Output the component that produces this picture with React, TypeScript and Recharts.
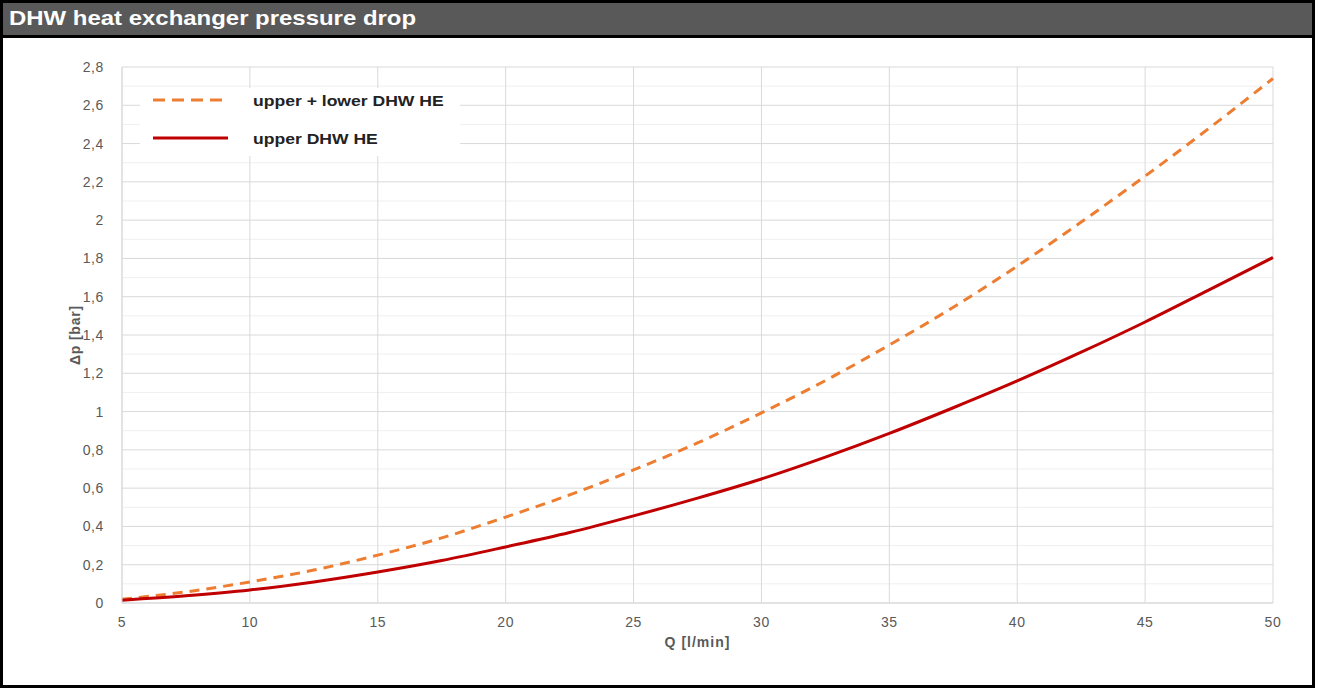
import { LineChart, Line, XAxis, YAxis, CartesianGrid } from 'recharts';

// Q [l/min]
const flow = [5, 7.5, 10, 12.5, 15, 17.5, 20, 22.5, 25, 27.5, 30, 32.5, 35, 37.5, 40, 42.5, 45, 47.5, 50];
// pressure drop [bar], upper DHW HE only
const upperHE = [0.015, 0.038, 0.068, 0.11, 0.162, 0.222, 0.293, 0.368, 0.455, 0.548, 0.648, 0.762, 0.886, 1.02, 1.16, 1.31, 1.468, 1.636, 1.805];
// pressure drop [bar], upper + lower DHW HE
const bothHE = [0.02, 0.058, 0.11, 0.172, 0.25, 0.34, 0.449, 0.565, 0.695, 0.836, 0.993, 1.162, 1.348, 1.545, 1.76, 1.99, 2.23, 2.48, 2.74];

const xTicks = [5, 10, 15, 20, 25, 30, 35, 40, 45, 50];
const yTicks = [0, 0.2, 0.4, 0.6, 0.8, 1, 1.2, 1.4, 1.6, 1.8, 2, 2.2, 2.4, 2.6, 2.8];
const yMinor = [0.1, 0.3, 0.5, 0.7, 0.9, 1.1, 1.3, 1.5, 1.7, 1.9, 2.1, 2.3, 2.5, 2.7];

const data = flow.map((q, i) => ({ q, upper: upperHE[i], both: bothHE[i] }));

const ORANGE = '#ED7D31';
const RED = '#C00000';
const FONT = '"Liberation Sans", Arial, sans-serif';

const fmt = (v: number) => String(v).replace('.', ',');

function LegendBox() {
  const row = (dashed: boolean, color: string, text: string, h: number) => (
    <div style={{ display: 'flex', alignItems: 'center', height: h }}>
      <svg width={100} height={10}>
        <line x1={13} y1={5} x2={88} y2={5} stroke={color} strokeWidth={3}
          strokeDasharray={dashed ? '12 7' : undefined} />
      </svg>
      <span style={{
        marginLeft: 13, fontFamily: FONT, fontWeight: 'bold', fontSize: 15, color: '#222',
        display: 'inline-block', transform: 'scaleX(1.17)', transformOrigin: 'left center',
        whiteSpace: 'nowrap',
      }}>{text}</span>
    </div>
  );
  return (
    <div style={{ position: 'absolute', left: 140, top: 88, background: '#fff', width: 320, height: 68 }}>
      {row(true, ORANGE, 'upper + lower DHW HE', 24)}
      {row(false, RED, 'upper DHW HE', 52)}
    </div>
  );
}

const YLabel = ({ viewBox }: any) => {
  const cx = viewBox.x + 13;
  const cy = viewBox.y + viewBox.height / 2;
  return (
    <text x={cx} y={cy} transform={`rotate(-90, ${cx}, ${cy})`} textAnchor="middle"
      dominantBaseline="central" fill="#595959" fontWeight="bold" fontSize={14} fontFamily={FONT}
      letterSpacing={0.8}>
      Δp [bar]
    </text>
  );
};

export default function App() {
  return (
    <div style={{ position: 'fixed', left: 0, top: 0, width: 1318, height: 688, background: '#fff' }}>
      <div style={{
        position: 'absolute', left: 0, top: 0, width: 1315, height: 688,
        border: '3px solid #000', boxSizing: 'border-box',
      }}>
        <div style={{
          height: 32, background: '#595959', borderBottom: '3px solid #000',
          boxSizing: 'content-box', overflow: 'hidden',
        }}>
          <span style={{
            display: 'inline-block', color: '#fff', fontFamily: FONT, fontWeight: 'bold', fontSize: 21,
            lineHeight: '30px', marginLeft: 6, transform: 'scaleX(1.14)', transformOrigin: 'left center',
            whiteSpace: 'nowrap',
          }}>
            DHW heat exchanger pressure drop
          </span>
        </div>
      </div>
      <div style={{ position: 'absolute', left: 0, top: 0 }}>
        <LineChart width={1318} height={688} data={data}
          margin={{ top: 67, right: 45, bottom: 55, left: 62 }}>
          <CartesianGrid horizontalValues={yMinor} vertical={false} stroke="#efefef" />
          <CartesianGrid stroke="#d9d9d9" />
          <XAxis dataKey="q" type="number" domain={[5, 50]} ticks={xTicks} height={30}
            axisLine={{ stroke: '#d9d9d9' }} tickLine={false} tickMargin={8}
            tick={{ fill: '#595959', fontSize: 14, fontFamily: FONT, letterSpacing: 0.6 }}
            label={{ value: 'Q [l/min]', position: 'bottom', offset: 4, fill: '#595959', fontWeight: 'bold', fontSize: 14, fontFamily: FONT, letterSpacing: 1 }} />
          <YAxis type="number" domain={[0, 2.8]} ticks={yTicks} width={60} tickFormatter={fmt}
            axisLine={{ stroke: '#d9d9d9' }} tickLine={false} tickMargin={12}
            tick={{ fill: '#595959', fontSize: 14, fontFamily: FONT, letterSpacing: 0.6 }}
            label={<YLabel />} />
          <Line dataKey="both" type="monotone" stroke={ORANGE} strokeWidth={3} strokeDasharray="10 7"
            dot={false} isAnimationActive={false} />
          <Line dataKey="upper" type="monotone" stroke={RED} strokeWidth={3}
            dot={false} isAnimationActive={false} />
        </LineChart>
      </div>
      <LegendBox />
    </div>
  );
}
